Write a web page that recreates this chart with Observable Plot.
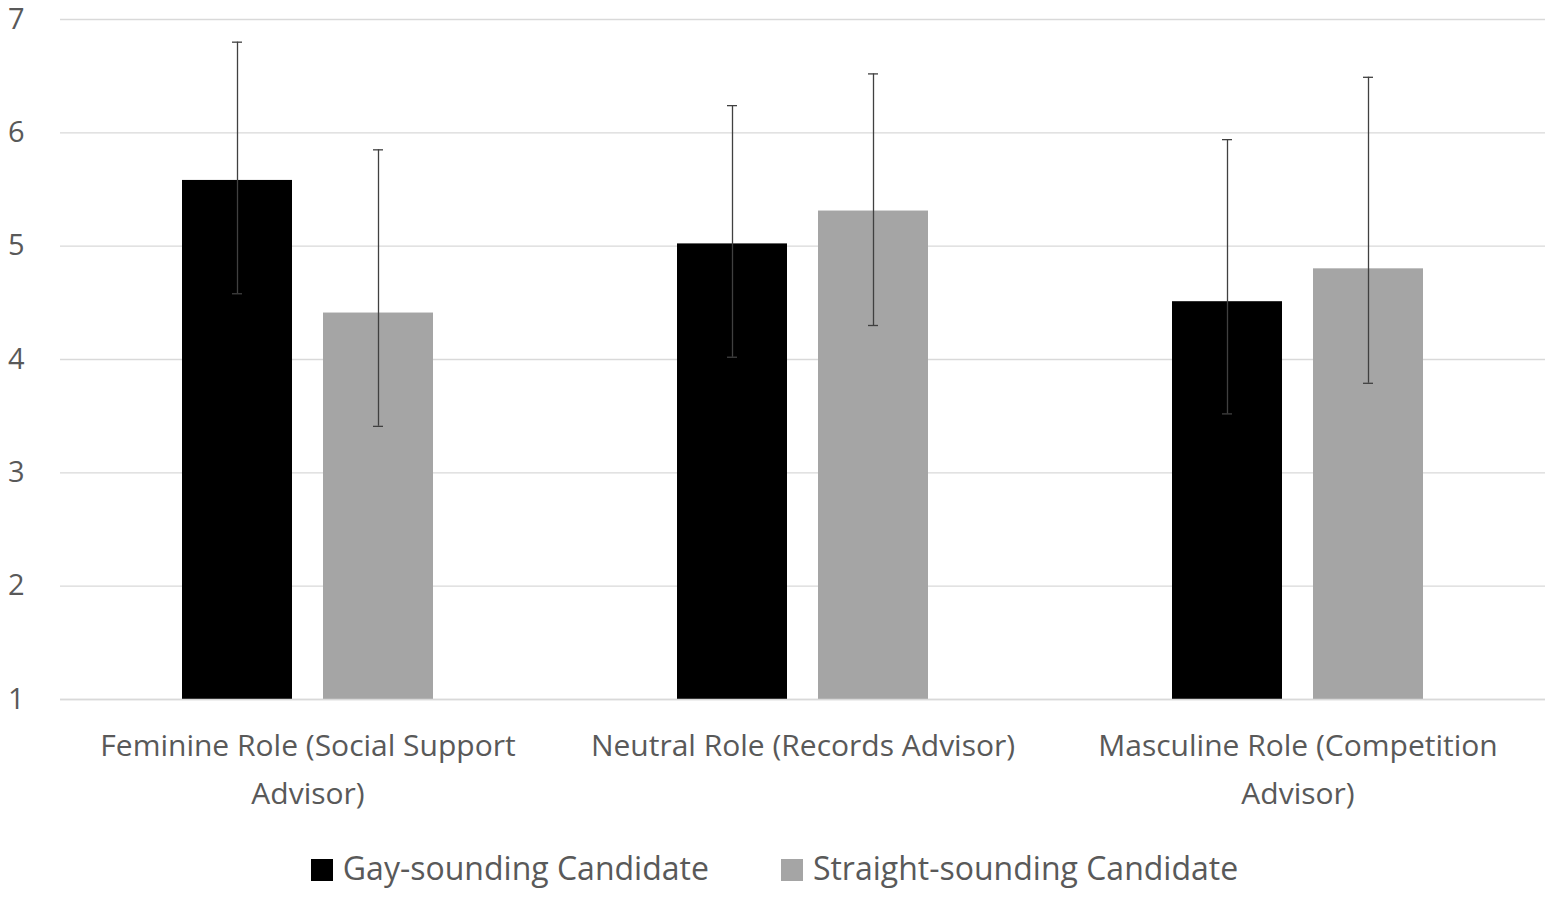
<!DOCTYPE html>
<html><head><meta charset="utf-8">
<script src="https://cdn.jsdelivr.net/npm/d3@7"></script>
<script src="https://cdn.jsdelivr.net/npm/@observablehq/plot@0.6"></script>
<style>
body{margin:0;background:#fff;font-family:"Open Sans",sans-serif;}
#legend{display:flex;justify-content:center;gap:72px;margin-top:26px;margin-left:-10px;font-size:32px;color:#595959;}
#legend span.sw{display:inline-block;width:22px;height:22px;margin-right:10px;vertical-align:-1px;}
</style></head><body>
<div id="chart"></div>
<div id="legend"></div>
<script>
const categories = ["Feminine Role (Social Support\nAdvisor)", "Neutral Role (Records Advisor)", "Masculine Role (Competition\nAdvisor)"];
const series = ["Gay-sounding Candidate", "Straight-sounding Candidate"];
const colors = ["#000000", "#a5a5a5"];
const gayMean = [5.58, 5.02, 4.51];
const gayLow = [4.58, 4.02, 3.52];
const gayHigh = [6.80, 6.24, 5.94];
const straightMean = [4.41, 5.31, 4.80];
const straightLow = [3.41, 4.30, 3.79];
const straightHigh = [5.85, 6.52, 6.49];
const yTicks = [1,2,3,4,5,6,7];

const data = [];
categories.forEach((c,i)=>{
  data.push({cat:c, s:series[0], v:gayMean[i], lo:gayLow[i], hi:gayHigh[i]});
  data.push({cat:c, s:series[1], v:straightMean[i], lo:straightLow[i], hi:straightHigh[i]});
});

const chart = Plot.plot({
  width:1559, height:820,
  marginLeft:60, marginRight:14, marginTop:19, marginBottom:121,
  style:{fontFamily:"Open Sans, sans-serif", color:"#595959"},
  fx:{domain:categories, padding:0, label:null},
  x:{domain:series, paddingInner:0.22, paddingOuter:0.865, axis:null},
  y:{domain:[1,7], label:null},
  color:{domain:series, range:colors},
  marks:[
    Plot.gridY(yTicks,{stroke:"#d9d9d9", strokeOpacity:1, strokeWidth:1.3}),
    Plot.axisY(yTicks,{tickSize:0, tickPadding:36, fontSize:29, fill:"#595959", tickFormat:d3.format("d"), label:null}),
    Plot.axisFx({anchor:"bottom", tickSize:0, tickPadding:22, fontSize:30, fill:"#595959", lineHeight:1.6, lineWidth:100, label:null}),
    Plot.barY(data,{fx:"cat", x:"s", y1:1, y2:"v", fill:"s"}),
    Plot.ruleY([1],{stroke:"#d9d9d9", strokeWidth:1.5}),
    Plot.ruleX(data,{fx:"cat", x:"s", y1:"lo", y2:"hi", stroke:"#404040", strokeWidth:1.3}),
    Plot.tickY(data,{fx:"cat", x:"s", y:"lo", stroke:"#404040", strokeWidth:1.3, insetLeft:50, insetRight:50}),
    Plot.tickY(data,{fx:"cat", x:"s", y:"hi", stroke:"#404040", strokeWidth:1.3, insetLeft:50, insetRight:50})
  ]
});
document.getElementById("chart").append(chart);
document.getElementById("legend").innerHTML = series.map((s,i)=>`<div><span class="sw" style="background:${colors[i]}"></span>${s}</div>`).join("");
</script>
</body></html>
